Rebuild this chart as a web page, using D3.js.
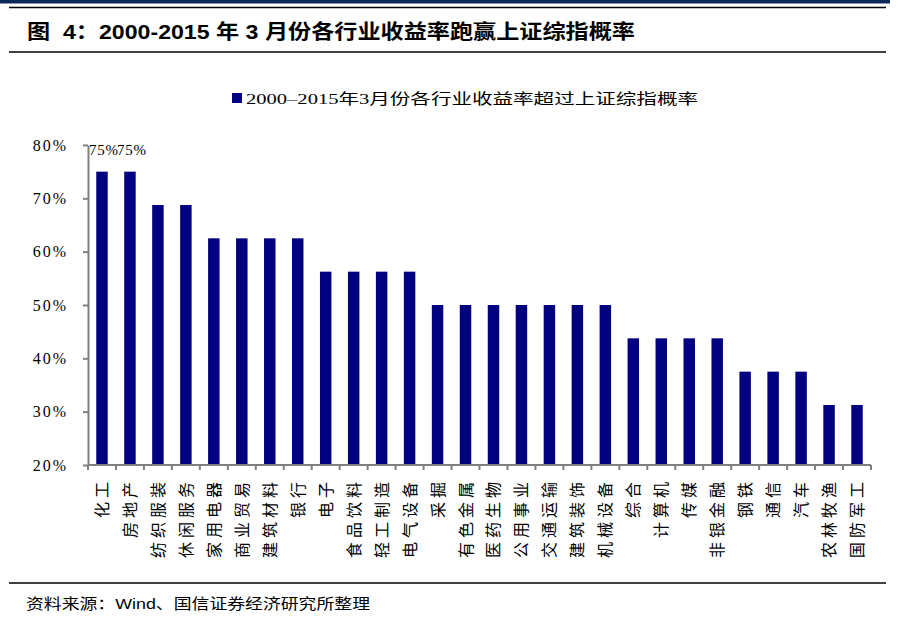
<!DOCTYPE html>
<html><head><meta charset="utf-8">
<script src="https://cdn.jsdelivr.net/npm/d3@7"></script>
<style>body{margin:0;background:#fff}svg{display:block}</style>
</head><body>
<svg id="c" width="902" height="643"></svg>
<script>
const categories = ["化工","房地产","纺织服装","休闲服务","家用电器","商业贸易","建筑材料","银行","电子","食品饮料","轻工制造","电气设备","采掘","有色金属","医药生物","公用事业","交通运输","建筑装饰","机械设备","综合","计算机","传媒","非银金融","钢铁","通信","汽车","农林牧渔","国防军工"];
const values = [0.75,0.75,0.6875,0.6875,0.625,0.625,0.625,0.625,0.5625,0.5625,0.5625,0.5625,0.5,0.5,0.5,0.5,0.5,0.5,0.5,0.4375,0.4375,0.4375,0.4375,0.375,0.375,0.375,0.3125,0.3125];
const labeledIdx = [0,1];
const yTicks = [0.2,0.3,0.4,0.5,0.6,0.7,0.8];
const titleText = "图  4：2000-2015 年 3 月份各行业收益率跑赢上证综指概率";
const legendText = "2000–2015年3月份各行业收益率超过上证综指概率";
const sourceText = "资料来源：Wind、国信证券经济研究所整理";

const svg = d3.select("#c");
const serif = "'Liberation Serif','Noto Sans CJK SC',serif";
const cjk = "'Liberation Sans','Noto Sans CJK SC',sans-serif";

// header decorations
svg.append("rect").attr("x",0).attr("y",0).attr("width",890).attr("height",3.5).attr("fill","#0b2a57");
svg.append("line").attr("x1",9).attr("x2",886).attr("y1",7.5).attr("y2",7.5).attr("stroke","#000").attr("stroke-width",1.5);
svg.append("line").attr("x1",9).attr("x2",886).attr("y1",52).attr("y2",52).attr("stroke","#000").attr("stroke-width",1.5);
svg.append("line").attr("x1",9).attr("x2",886).attr("y1",583).attr("y2",583).attr("stroke","#000").attr("stroke-width",1.5);

svg.append("text").attr("x",27).attr("y",39).attr("font-family",cjk).attr("font-weight","bold")
  .attr("font-size",20).attr("textLength",608).attr("lengthAdjust","spacingAndGlyphs")
  .attr("xml:space","preserve").style("white-space","pre").text(titleText);

svg.append("text").attr("x",26).attr("y",609).attr("font-family",cjk)
  .attr("font-size",15).attr("textLength",344).attr("lengthAdjust","spacingAndGlyphs").text(sourceText);

const x = d3.scaleBand().domain(categories).range([88,871]).paddingInner(0.59).paddingOuter(0.295);
const xTick = d3.scaleBand().domain(categories).range([88,871]);
const y = d3.scaleLinear().domain([0.2,0.8]).range([465,145]);

// legend
svg.append("rect").attr("x",232).attr("y",93).attr("width",10).attr("height",10).attr("fill","#000080");
svg.append("text").attr("x",246).attr("y",104).attr("font-family",serif).attr("font-size",15)
  .attr("textLength",452).attr("lengthAdjust","spacingAndGlyphs").text(legendText);

// bars
svg.append("g").selectAll("rect").data(categories).join("rect")
  .attr("x",d=>x(d)).attr("width",x.bandwidth())
  .attr("y",(d,i)=>y(values[i])).attr("height",(d,i)=>y(0.2)-y(values[i]))
  .attr("fill","#000080");

// value labels
svg.append("g").selectAll("text").data(labeledIdx).join("text")
  .attr("x",i=>x(categories[i])+x.bandwidth()/2+2).attr("y",i=>y(values[i])-17)
  .attr("text-anchor","middle").attr("font-family",serif).attr("font-size",15).attr("letter-spacing",0.8)
  .text(i=>d3.format(".0%")(values[i]));

// y axis
const yAxis = svg.append("g").attr("transform","translate(88,0)")
  .call(d3.axisLeft(y).tickValues(yTicks).tickFormat(d3.format(".0%")).tickSize(5).tickSizeOuter(0).tickPadding(15));
yAxis.select(".domain").attr("stroke","#808080").attr("stroke-width",2);
yAxis.selectAll(".tick line").attr("stroke","#808080").attr("stroke-width",2);
yAxis.selectAll(".tick text").attr("font-family",serif).attr("font-size",16).attr("letter-spacing",2).attr("fill","#000");

// x axis
const xg = svg.append("g").attr("transform","translate(0,465)");
xg.append("line").attr("x1",88).attr("x2",871).attr("y1",0).attr("y2",0).attr("stroke","#808080").attr("stroke-width",2);
const bounds = categories.map(c=>xTick(c)).concat([871]);
xg.selectAll("line.t").data(bounds).join("line").attr("class","t")
  .attr("x1",d=>d).attr("x2",d=>d).attr("y1",0).attr("y2",5).attr("stroke","#808080").attr("stroke-width",2);
xg.selectAll("text").data(categories).join("text")
  .attr("transform",d=>`translate(${x(d)+x.bandwidth()/2+6},13) rotate(-90)`)
  .attr("text-anchor","end").attr("font-family",serif).attr("font-size",16).attr("letter-spacing",4)
  .text(d=>d);
</script>
</body></html>
